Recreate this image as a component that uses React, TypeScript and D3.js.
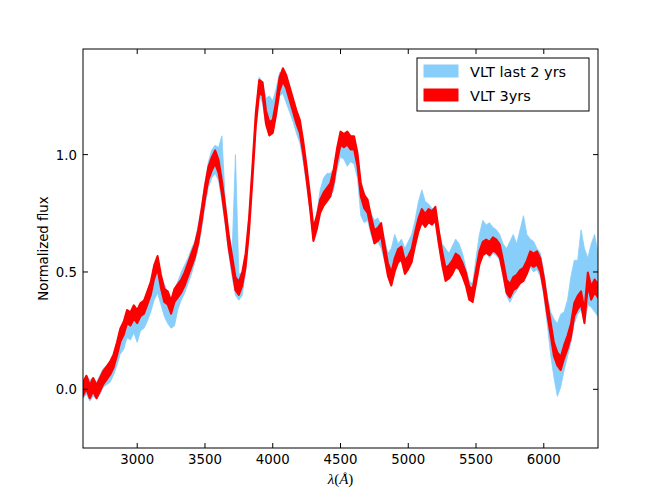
import * as d3 from 'd3';

// wavelength grid, 25 Å steps from 2600 to 6400
const wavelengths = d3.range(2600, 6401, 25);

// VLT 3yrs: centre of the red band
const red3yrs = [
  0.0, 0.03, -0.01, 0.02, -0.01, 0.02, 0.05, 0.07, 0.09, 0.12,
  0.17, 0.23, 0.26, 0.31, 0.3, 0.33, 0.31, 0.34, 0.35, 0.39,
  0.43, 0.5, 0.54, 0.46, 0.4, 0.39, 0.35, 0.4, 0.42, 0.44,
  0.47, 0.51, 0.55, 0.59, 0.65, 0.74, 0.84, 0.92, 0.96, 0.99,
  0.95, 0.86, 0.75, 0.63, 0.54, 0.45, 0.43, 0.47, 0.55, 0.7,
  0.92, 1.15, 1.29, 1.28, 1.16, 1.11, 1.12, 1.2, 1.3, 1.34,
  1.31, 1.26, 1.21, 1.16, 1.12, 1.03, 0.92, 0.8, 0.66, 0.71,
  0.78, 0.81, 0.83, 0.85, 0.91, 1.0, 1.07, 1.06, 1.07, 1.05,
  1.05, 0.98, 0.85, 0.8, 0.78, 0.71, 0.65, 0.66, 0.68, 0.59,
  0.51, 0.47, 0.53, 0.57, 0.58, 0.52, 0.54, 0.57, 0.64, 0.7,
  0.74, 0.72, 0.74, 0.73, 0.75, 0.65, 0.56, 0.49, 0.5, 0.52,
  0.55, 0.54, 0.51, 0.47, 0.41, 0.4, 0.48, 0.56, 0.6, 0.61,
  0.6, 0.62, 0.61, 0.59, 0.52, 0.44, 0.42, 0.45, 0.46, 0.48,
  0.49, 0.52, 0.56, 0.55, 0.56, 0.53, 0.45, 0.35, 0.26, 0.17,
  0.13, 0.11, 0.16, 0.2, 0.25, 0.34, 0.37, 0.39, 0.31, 0.47,
  0.41, 0.44, 0.42,
];
const redHalfWidth = 0.028;

// VLT last 2 yrs: upper and lower edge of the blue band
const blueTop = [
  0.04, 0.06, 0.04, 0.05, 0.03, 0.06, 0.09, 0.1, 0.12, 0.15,
  0.2, 0.25, 0.28, 0.32, 0.33, 0.34, 0.33, 0.36, 0.38, 0.41,
  0.45, 0.5, 0.52, 0.48, 0.45, 0.41, 0.38, 0.42, 0.46, 0.5,
  0.53, 0.56, 0.6, 0.63, 0.7, 0.78, 0.88, 0.97, 1.02, 1.04,
  1.03, 1.08, 0.8, 0.67, 0.58, 1.0, 0.49, 0.5, 0.58, 0.74,
  0.96, 1.18, 1.33, 1.31, 1.24, 1.25, 1.23, 1.28, 1.35, 1.35,
  1.32, 1.27, 1.22, 1.18, 1.13, 1.05, 0.94, 0.82, 0.68, 0.75,
  0.85, 0.9, 0.92, 0.92, 0.94, 1.02, 1.06, 1.05, 1.06, 1.04,
  1.04, 0.99, 0.87, 0.84, 0.8, 0.75, 0.72, 0.73, 0.7, 0.64,
  0.58, 0.6, 0.66, 0.62, 0.64, 0.6, 0.63, 0.66, 0.72, 0.8,
  0.85, 0.8, 0.79, 0.77, 0.77, 0.68, 0.62, 0.6, 0.58, 0.61,
  0.64, 0.62, 0.58, 0.52, 0.46, 0.45, 0.56, 0.66, 0.72, 0.7,
  0.71, 0.69, 0.68, 0.66, 0.62, 0.6, 0.63, 0.66, 0.62, 0.68,
  0.74, 0.66, 0.64, 0.63, 0.6, 0.58, 0.5, 0.4, 0.33, 0.3,
  0.28, 0.32, 0.33, 0.38, 0.48, 0.55, 0.55, 0.68, 0.6, 0.56,
  0.62, 0.66, 0.58,
];
const blueBottom = [
  -0.04, -0.02, -0.05, -0.03, -0.04, -0.02, 0.01, 0.02, 0.03, 0.06,
  0.1, 0.15, 0.17, 0.22, 0.21, 0.24, 0.2, 0.25, 0.26, 0.29,
  0.33, 0.38, 0.41, 0.36, 0.31, 0.28, 0.26, 0.27, 0.34, 0.38,
  0.41, 0.45, 0.49, 0.54, 0.6, 0.68, 0.78, 0.86, 0.9, 0.92,
  0.89, 0.8, 0.7, 0.58, 0.48, 0.4, 0.38, 0.4, 0.5, 0.66,
  0.88, 1.1, 1.25, 1.22, 1.12, 1.08, 1.09, 1.17, 1.25, 1.26,
  1.22, 1.18, 1.14, 1.09, 1.05, 0.97, 0.87, 0.76, 0.63, 0.68,
  0.75, 0.78, 0.8, 0.82, 0.85, 0.94, 0.99, 0.98, 0.95, 0.97,
  0.96, 0.9, 0.74, 0.71, 0.72, 0.66, 0.62, 0.63, 0.6, 0.55,
  0.49, 0.46, 0.52, 0.55, 0.56, 0.51, 0.52, 0.55, 0.62, 0.68,
  0.71, 0.7, 0.71, 0.7, 0.71, 0.61, 0.53, 0.47, 0.48, 0.5,
  0.53, 0.52, 0.5, 0.45, 0.4, 0.38, 0.46, 0.53, 0.57, 0.58,
  0.56, 0.58, 0.57, 0.55, 0.48, 0.4, 0.37, 0.4, 0.42, 0.45,
  0.46, 0.49, 0.52, 0.5, 0.51, 0.48, 0.4, 0.28, 0.15, 0.05,
  -0.03, 0.01, 0.08, 0.14, 0.2, 0.28, 0.32, 0.34, 0.28, 0.36,
  0.35, 0.33, 0.31,
];

const xTicks = [3000, 3500, 4000, 4500, 5000, 5500, 6000];
const yTicks = [0.0, 0.5, 1.0];
const legendItems = [
  { label: 'VLT last 2 yrs', color: '#87cefa' },
  { label: 'VLT 3yrs', color: '#ff0000' },
];

const W = 664;
const H = 498;
const margin = { top: 49, right: 66, bottom: 50, left: 83 };
const font = '"DejaVu Sans", sans-serif';

export default function App() {
  const x = d3.scaleLinear().domain([2600, 6400]).range([margin.left, W - margin.right]);
  const y = d3.scaleLinear().domain([-0.25, 1.45]).range([H - margin.bottom, margin.top]);
  const x0 = margin.left;
  const x1 = W - margin.right;
  const y0 = H - margin.bottom;
  const y1 = margin.top;

  const idx = wavelengths.map((_, i) => i);

  const blueArea = d3
    .area<number>()
    .x((i) => x(wavelengths[i]))
    .y0((i) => y(blueBottom[i]))
    .y1((i) => y(blueTop[i]));

  const redArea = d3
    .area<number>()
    .x((i) => x(wavelengths[i]))
    .y0((i) => y(red3yrs[i] - redHalfWidth))
    .y1((i) => y(red3yrs[i] + redHalfWidth));

  const tickLen = 5;

  return (
    <svg width={W} height={H} style={{ position: 'absolute', left: 0, top: 0, background: '#fff' }}>
      <defs>
        <clipPath id="plot">
          <rect x={x0} y={y1} width={x1 - x0} height={y0 - y1} />
        </clipPath>
      </defs>
      <g clipPath="url(#plot)">
        <path d={blueArea(idx) ?? ''} fill="#87cefa" stroke="#87cefa" strokeWidth={0.8} />
        <path d={redArea(idx) ?? ''} fill="#ff0000" stroke="#ff0000" strokeWidth={2} strokeLinejoin="round" />
      </g>

      {/* frame */}
      <rect x={x0} y={y1} width={x1 - x0} height={y0 - y1} fill="none" stroke="#000" strokeWidth={1} />

      {/* x ticks */}
      {xTicks.map((t) => (
        <g key={`x${t}`}>
          <line x1={x(t)} x2={x(t)} y1={y0} y2={y0 - tickLen} stroke="#000" />
          <line x1={x(t)} x2={x(t)} y1={y1} y2={y1 + tickLen} stroke="#000" />
          <text x={x(t)} y={y0 + 16} textAnchor="middle" fontFamily={font} fontSize={13.3}>
            {t}
          </text>
        </g>
      ))}

      {/* y ticks */}
      {yTicks.map((t) => (
        <g key={`y${t}`}>
          <line x1={x0} x2={x0 + tickLen} y1={y(t)} y2={y(t)} stroke="#000" />
          <line x1={x1} x2={x1 - tickLen} y1={y(t)} y2={y(t)} stroke="#000" />
          <text x={x0 - 6} y={y(t) + 5} textAnchor="end" fontFamily={font} fontSize={13.3}>
            {t.toFixed(1)}
          </text>
        </g>
      ))}

      {/* axis labels */}
      <text x={(x0 + x1) / 2} y={484} textAnchor="middle" fontFamily='"Liberation Serif", serif' fontSize={15}>
        <tspan fontStyle="italic">λ</tspan>
        <tspan>(</tspan>
        <tspan fontStyle="italic">Å</tspan>
        <tspan>)</tspan>
      </text>
      <text
        transform={`translate(48,${(y0 + y1) / 2}) rotate(-90)`}
        textAnchor="middle"
        fontFamily={font}
        fontSize={13.3}
      >
        Normalized flux
      </text>

      {/* legend */}
      <g>
        <rect x={417} y={58} width={172} height={53} fill="#fff" stroke="#000" strokeWidth={1} />
        {legendItems.map((d, i) => (
          <g key={d.label} transform={`translate(0,${i * 24})`}>
            <rect x={424} y={65} width={34} height={12} fill={d.color} stroke={d.color} strokeWidth={1} />
            <text x={470} y={77} fontFamily={font} fontSize={14.5}>
              {d.label}
            </text>
          </g>
        ))}
      </g>
    </svg>
  );
}
